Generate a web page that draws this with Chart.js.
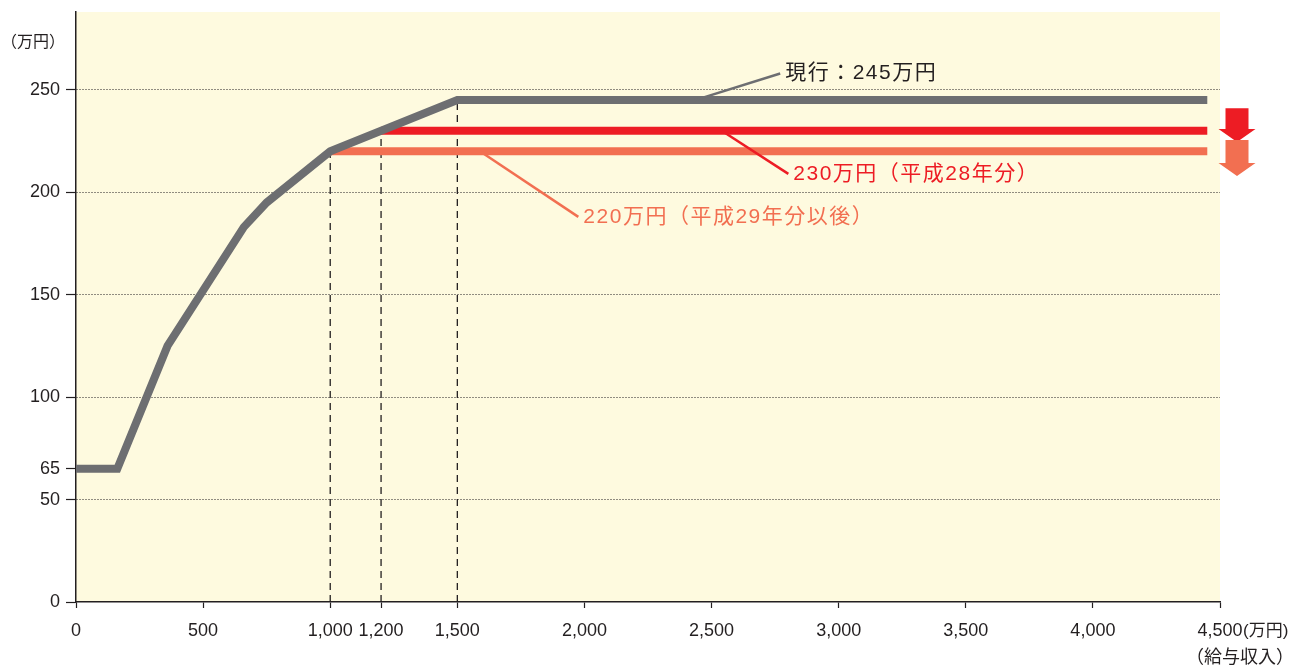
<!DOCTYPE html>
<html lang="ja">
<head>
<meta charset="utf-8">
<script src="https://cdn.jsdelivr.net/npm/chart.js@4"></script>
<style>
  html, body { margin: 0; padding: 0; background: #fff; }
  #wrap { width: 1293px; height: 667px; }
</style>
</head>
<body>
<div id="wrap"><canvas id="c" width="1293" height="667"></canvas></div>
<script>
// 給与収入（万円）と給与所得控除額（万円）
const currentX = [0, 162.5, 360, 660, 750, 1000, 1500, 4450];
const currentY = [65, 65, 125, 183, 195, 220, 245, 245];
const h28X = [1200, 4450];
const h28Y = [230, 230];
const h29X = [1000, 4450];
const h29Y = [220, 220];
const guideX = [1000, 1200, 1500];
const guideTop = [220, 230, 245];

const xTicks = [0, 500, 1000, 1200, 1500, 2000, 2500, 3000, 3500, 4000, 4500];
const yTicks = [0, 50, 65, 100, 150, 200, 250];

const GRAY = '#6D6E71';
const RED = '#ED1C24';
const ORANGE = '#F26F51';
const INK = '#231F20';
const FONT = '"Liberation Sans", "Noto Sans CJK JP", sans-serif';

const fmt = v => String(v).replace(/\B(?=(\d{3})+(?!\d))/g, ',');
const pts = (xs, ys) => xs.map((x, i) => ({ x: x, y: ys[i] }));

// 注記（引出し線の起点・文字位置はデータ座標）
const notes = [
  { text: '現行：245万円', color: INK, line: GRAY, from: [2435, 245], to: [2770, 258] },
  { text: '230万円（平成28年分）', color: RED, line: RED, from: [2540, 230], to: [2802, 209] },
  { text: '220万円（平成29年分以後）', color: ORANGE, line: ORANGE, from: [1589, 220], to: [1976, 188] }
];
const arrows = [
  { color: RED, top: 241, tip: 224.5 },
  { color: ORANGE, top: 225.5, tip: 208 }
];

const decor = {
  id: 'decor',
  beforeDraw(chart) {
    const a = chart.chartArea, ctx = chart.ctx;
    ctx.save();
    ctx.fillStyle = '#FEFADF';
    ctx.fillRect(a.left, a.top, a.right - a.left, a.bottom - a.top);
    ctx.restore();
  },
  afterDraw(chart) {
    const ctx = chart.ctx, xs = chart.scales.x, ys = chart.scales.y, a = chart.chartArea;
    ctx.save();
    // 注記
    notes.forEach(n => {
      const x1 = xs.getPixelForValue(n.from[0]), y1 = ys.getPixelForValue(n.from[1]);
      const x2 = xs.getPixelForValue(n.to[0]), y2 = ys.getPixelForValue(n.to[1]);
      ctx.strokeStyle = n.line;
      ctx.lineWidth = 2.5;
      ctx.beginPath(); ctx.moveTo(x1, y1); ctx.lineTo(x2, y2); ctx.stroke();
      ctx.fillStyle = n.color;
      ctx.font = '21px ' + FONT;
      ctx.letterSpacing = '1.5px';
      ctx.textBaseline = 'middle';
      ctx.textAlign = 'left';
      ctx.fillText(n.text, x2 + 5, y2);
    });
    ctx.letterSpacing = '0px';
    // 右側の下向き矢印
    arrows.forEach(ar => {
      const cx = a.right + 17;
      const yt = ys.getPixelForValue(ar.top), yp = ys.getPixelForValue(ar.tip);
      const yh = yp - 13;
      ctx.fillStyle = ar.color;
      ctx.beginPath();
      ctx.moveTo(cx - 11.5, yt);
      ctx.lineTo(cx + 11.5, yt);
      ctx.lineTo(cx + 11.5, yh);
      ctx.lineTo(cx + 18.5, yh);
      ctx.lineTo(cx, yp);
      ctx.lineTo(cx - 18.5, yh);
      ctx.lineTo(cx - 11.5, yh);
      ctx.closePath();
      ctx.fill();
    });
    // 軸の単位
    ctx.fillStyle = INK;
    ctx.font = '16px ' + FONT;
    ctx.textAlign = 'center';
    ctx.textBaseline = 'middle';
    ctx.fillText('（万円）', 33, 43);
    ctx.font = '17px ' + FONT;
    ctx.textAlign = 'left';
    ctx.fillText('(万円)', 1243, 631);
    ctx.font = '18px ' + FONT;
    ctx.textAlign = 'center';
    ctx.fillText('（給与収入）', 1240, 658);
    ctx.restore();
  }
};

const ctx = document.getElementById('c').getContext('2d');
new Chart(ctx, {
  type: 'line',
  data: {
    datasets: [
      { label: '現行', data: pts(currentX, currentY), borderColor: GRAY, borderWidth: 8, order: 0 },
      { label: '平成28年分', data: pts(h28X, h28Y), borderColor: RED, borderWidth: 8, order: 1 },
      { label: '平成29年分以後', data: pts(h29X, h29Y), borderColor: ORANGE, borderWidth: 8, order: 2 }
    ].concat(guideX.map((gx, i) => ({
      label: 'guide' + gx,
      data: [{ x: gx, y: 0 }, { x: gx, y: guideTop[i] }],
      borderColor: INK,
      borderWidth: 1.3,
      borderDash: [7, 5],
      order: 3
    })))
  },
  options: {
    responsive: false,
    animation: false,
    events: [],
    layout: { padding: { left: 0, top: 12, right: 73, bottom: 0 } },
    elements: {
      point: { radius: 0 },
      line: { tension: 0, borderJoinStyle: 'miter', borderCapStyle: 'butt', fill: false }
    },
    plugins: { legend: { display: false }, tooltip: { enabled: false } },
    scales: {
      x: {
        type: 'linear',
        min: 0,
        max: 4500,
        afterBuildTicks: s => { s.ticks = xTicks.map(v => ({ value: v })); },
        afterFit: s => { s.height = 65; },
        grid: { drawOnChartArea: false, drawTicks: true, tickLength: 6, tickColor: INK, tickWidth: 1.2 },
        border: { color: INK, width: 1.5 },
        ticks: {
          autoSkip: false,
          maxRotation: 0,
          padding: 12,
          color: INK,
          font: { family: FONT, size: 18 },
          callback: v => fmt(v)
        }
      },
      y: {
        type: 'linear',
        min: 0,
        max: 288,
        afterBuildTicks: s => { s.ticks = yTicks.map(v => ({ value: v })); },
        afterFit: s => { s.width = 76; s.paddingTop = 0; s.paddingBottom = 0; },
        grid: {
          drawOnChartArea: true,
          drawTicks: true,
          tickLength: 10,
          tickColor: INK,
          tickWidth: 1.2,
          lineWidth: 1,
          color: c => (c.tick && (c.tick.value === 0 || c.tick.value === 65)) ? 'rgba(0,0,0,0)' : INK
        },
        border: { color: INK, width: 1.5, dash: [1, 2] },
        ticks: {
          autoSkip: false,
          padding: 6,
          color: INK,
          font: { family: FONT, size: 18 },
          callback: v => fmt(v)
        }
      }
    }
  },
  plugins: [decor]
});
</script>
</body>
</html>
